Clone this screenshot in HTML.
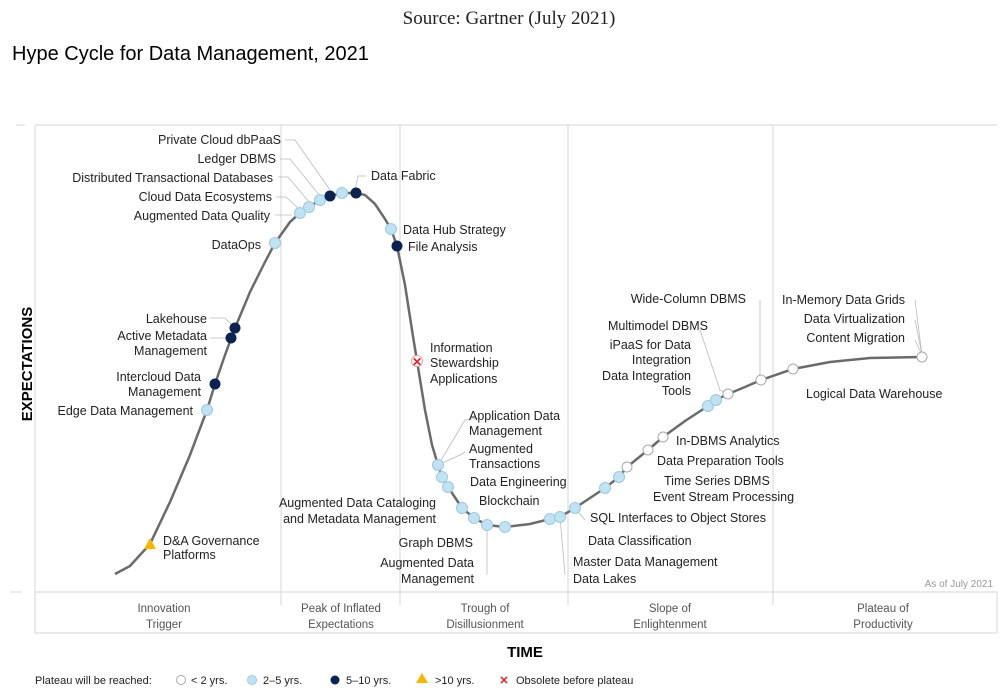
<!DOCTYPE html>
<html><head><style>
body{margin:0;background:#fff;width:1004px;height:694px;overflow:hidden;font-family:"Liberation Sans",sans-serif}
</style></head><body>
<svg width="1004" height="694" xmlns="http://www.w3.org/2000/svg" font-family="Liberation Sans, sans-serif">
<text x="509" y="24" font-family="Liberation Serif, serif" font-size="19" text-anchor="middle" fill="#222">Source: Gartner (July 2021)</text>
<text x="12" y="60" font-size="20" fill="#000">Hype Cycle for Data Management, 2021</text>
<g stroke="#ddd" stroke-width="1.2" fill="none">
<line x1="35" y1="125" x2="997" y2="125"/>
<line x1="35" y1="125" x2="35" y2="633"/>
<rect x="35" y="592" width="962" height="41"/>
<line x1="281" y1="125" x2="281" y2="605"/>
<line x1="400" y1="125" x2="400" y2="605"/>
<line x1="568" y1="125" x2="568" y2="605"/>
<line x1="773" y1="125" x2="773" y2="605"/>
<line x1="16" y1="125" x2="25" y2="125"/>
<line x1="10" y1="592" x2="22" y2="592"/>
</g>
<text x="32" y="364" font-size="15" font-weight="bold" transform="rotate(-90 32 364)" text-anchor="middle">EXPECTATIONS</text>
<text x="525" y="657" font-size="15" font-weight="bold" text-anchor="middle">TIME</text>
<g font-size="11.5" fill="#555" text-anchor="middle">
<text x="164" y="612">Innovation</text><text x="164" y="628">Trigger</text>
<text x="341" y="612">Peak of Inflated</text><text x="341" y="628">Expectations</text>
<text x="485" y="612">Trough of</text><text x="485" y="628">Disillusionment</text>
<text x="670" y="612">Slope of</text><text x="670" y="628">Enlightenment</text>
<text x="883" y="612">Plateau of</text><text x="883" y="628">Productivity</text>
</g>
<text x="993" y="587" font-size="10" fill="#999" text-anchor="end">As of July 2021</text>
<polyline fill="none" stroke="#6b6b6b" stroke-width="2.5" points="115,574 130,566 150,544 170,502 190,455 207,410 215,384 225,355 235,328 250,292 265,262 275,243 290,222 300,213 309,207 320,200 330,196 342,193 356,193 365,195 375,204 385,219 391,229 397,246 405,285 412,330 417,361 425,410 432,445 438,465 442,477 448,487 462,508 474,518 487,525 505,527 530,524 550,519 560,517 575,508 590,498 605,488 619,477 627,467 648,450 663,437 685,421 708,406 716,400 728,394 745,387 761,380 793,369 830,362 870,358 922,357"/>
<g stroke="#bbb" stroke-width="0.8" fill="none">
<polyline points="285,140 295,140 330,190"/><polyline points="280,159 290,159 320,196"/><polyline points="278,177 288,177 310,203"/><polyline points="276,197 286,197 300,210"/><polyline points="275,215 292,215"/>
<polyline points="210,318 225,318 235,328"/><polyline points="210,338 225,338 231,338"/>
<polyline points="355,190 358,176 366,176"/>
<polyline points="465,452 460,455 440,464"/><polyline points="478,418 465,420 440,462"/>
<line x1="487" y1="525" x2="487" y2="575"/><line x1="560" y1="517" x2="565" y2="575"/><line x1="575" y1="508" x2="585" y2="520"/>
<polyline points="700,330 720,390 728,394"/><polyline points="760,300 760,378"/><polyline points="915,300 922,355"/><polyline points="915,320 922,355"/><polyline points="915,340 922,355"/>
</g>
<g stroke="#9fc9dd" stroke-width="1">
<circle cx="207" cy="410" r="5.5" fill="#bfe3f2"/><circle cx="275" cy="243" r="5.5" fill="#bfe3f2"/><circle cx="300" cy="213" r="5.5" fill="#bfe3f2"/><circle cx="309" cy="207" r="5.5" fill="#bfe3f2"/><circle cx="320" cy="200" r="5.5" fill="#bfe3f2"/><circle cx="342" cy="193" r="5.5" fill="#bfe3f2"/><circle cx="391" cy="229" r="5.5" fill="#bfe3f2"/>
<circle cx="438" cy="465" r="5.5" fill="#bfe3f2"/><circle cx="442" cy="477" r="5.5" fill="#bfe3f2"/><circle cx="448" cy="487" r="5.5" fill="#bfe3f2"/><circle cx="462" cy="508" r="5.5" fill="#bfe3f2"/><circle cx="474" cy="518" r="5.5" fill="#bfe3f2"/><circle cx="487" cy="525" r="5.5" fill="#bfe3f2"/><circle cx="505" cy="527" r="5.5" fill="#bfe3f2"/><circle cx="550" cy="519" r="5.5" fill="#bfe3f2"/><circle cx="560" cy="517" r="5.5" fill="#bfe3f2"/><circle cx="575" cy="508" r="5.5" fill="#bfe3f2"/><circle cx="605" cy="488" r="5.5" fill="#bfe3f2"/><circle cx="619" cy="477" r="5.5" fill="#bfe3f2"/><circle cx="708" cy="406" r="5.5" fill="#bfe3f2"/><circle cx="716" cy="400" r="5.5" fill="#bfe3f2"/>
</g>
<g fill="#0a2350"><circle cx="215" cy="384" r="5.5"/><circle cx="231" cy="338" r="5.5"/><circle cx="235" cy="328" r="5.5"/><circle cx="330" cy="196" r="5.5"/><circle cx="356" cy="193" r="5.5"/><circle cx="397" cy="246" r="5.5"/></g>
<g fill="#fff" stroke="#aaa"><circle cx="627" cy="467" r="5"/><circle cx="648" cy="450" r="5"/><circle cx="663" cy="437" r="5"/><circle cx="728" cy="394" r="5"/><circle cx="761" cy="380" r="5"/><circle cx="793" cy="369" r="5"/><circle cx="922" cy="357" r="5"/></g>
<polygon points="150,538 156,549 144,549" fill="#f5b800"/>
<circle cx="417" cy="361" r="5.5" fill="#fff" stroke="#f4a0a0"/><text x="417" y="366" font-size="12" font-weight="bold" fill="#e02020" text-anchor="middle">✕</text>
<g font-size="12.5" fill="#222">
<g text-anchor="end">
<text x="281" y="144">Private Cloud dbPaaS</text><text x="276" y="163">Ledger DBMS</text><text x="273" y="182">Distributed Transactional Databases</text><text x="272" y="201">Cloud Data Ecosystems</text><text x="270" y="220">Augmented Data Quality</text><text x="261" y="249">DataOps</text>
<text x="207" y="323">Lakehouse</text><text x="207" y="340">Active Metadata</text><text x="207" y="355">Management</text><text x="201" y="381">Intercloud Data</text><text x="201" y="396">Management</text><text x="193" y="415">Edge Data Management</text>
<text x="436" y="507">Augmented Data Cataloging</text><text x="436" y="523">and Metadata Management</text><text x="473" y="547">Graph DBMS</text><text x="474" y="567">Augmented Data</text><text x="474" y="583">Management</text>
<text x="746" y="303">Wide-Column DBMS</text><text x="708" y="330">Multimodel DBMS</text><text x="691" y="349">iPaaS for Data</text><text x="691" y="364">Integration</text><text x="691" y="380">Data Integration</text><text x="691" y="395">Tools</text>
<text x="905" y="304">In-Memory Data Grids</text><text x="905" y="323">Data Virtualization</text><text x="905" y="342">Content Migration</text>
</g>
<text x="163" y="545">D&amp;A Governance</text><text x="163" y="559">Platforms</text>
<text x="371" y="180">Data Fabric</text><text x="403" y="234">Data Hub Strategy</text><text x="408" y="251">File Analysis</text>
<text x="430" y="352">Information</text><text x="430" y="367">Stewardship</text><text x="430" y="383">Applications</text>
<text x="469" y="420">Application Data</text><text x="469" y="435">Management</text><text x="469" y="453">Augmented</text><text x="469" y="468">Transactions</text><text x="470" y="486">Data Engineering</text><text x="479" y="505">Blockchain</text>
<text x="590" y="522">SQL Interfaces to Object Stores</text><text x="588" y="545">Data Classification</text><text x="573" y="566">Master Data Management</text><text x="573" y="583">Data Lakes</text>
<text x="653" y="501">Event Stream Processing</text><text x="664" y="485">Time Series DBMS</text><text x="657" y="465">Data Preparation Tools</text><text x="676" y="445">In-DBMS Analytics</text>
<text x="806" y="398">Logical Data Warehouse</text>
</g>
<g font-size="11" fill="#222">
<text x="35" y="684">Plateau will be reached:</text>
<circle cx="181" cy="680" r="4.5" fill="#fff" stroke="#aaa"/><text x="191" y="684">&lt; 2 yrs.</text>
<circle cx="252" cy="680" r="4.5" fill="#bfe3f2" stroke="#9fc9dd"/><text x="263" y="684">2–5 yrs.</text>
<circle cx="335" cy="680" r="4.5" fill="#0a2350"/><text x="346" y="684">5–10 yrs.</text>
<polygon points="422,673 428,683 416,683" fill="#f5b800"/><text x="435" y="684">&gt;10 yrs.</text>
<text x="504" y="684" fill="#e02020" font-weight="bold" text-anchor="middle">✕</text><text x="516" y="684">Obsolete before plateau</text>
</g>
</svg>
</body></html>
